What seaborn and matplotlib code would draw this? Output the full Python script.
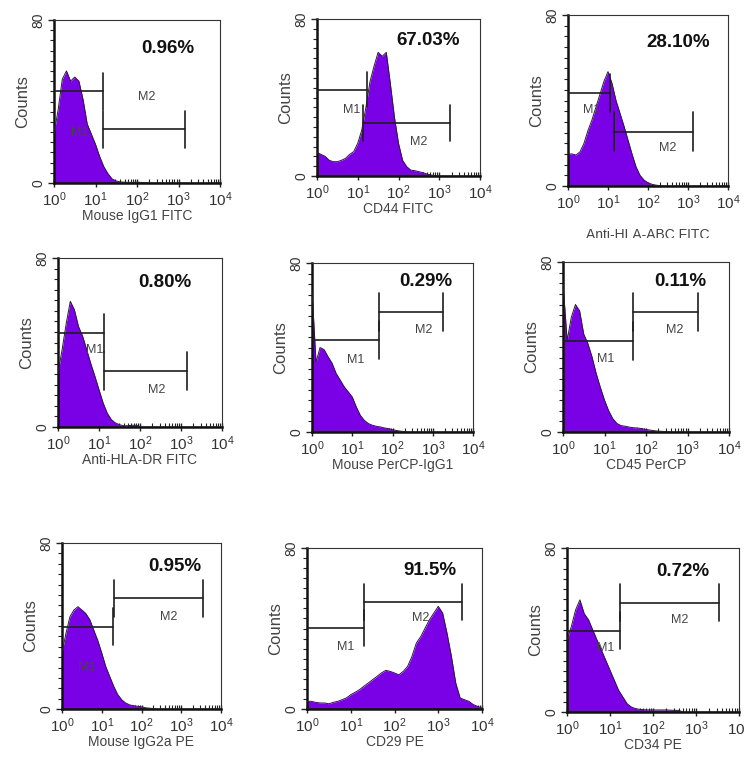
import numpy as np
import matplotlib
matplotlib.use('Agg')
import matplotlib.pyplot as plt
import seaborn as sns
from matplotlib.ticker import FixedLocator, LogLocator, MultipleLocator, NullFormatter
from matplotlib.transforms import Bbox, TransformedBbox

sns.set_style('ticks')
plt.rcParams['font.family'] = ['Liberation Sans', 'DejaVu Sans']
plt.rcParams['mathtext.fontset'] = 'custom'
plt.rcParams['mathtext.rm'] = 'Liberation Sans'
plt.rcParams['mathtext.it'] = 'Liberation Sans:italic'
plt.rcParams['mathtext.bf'] = 'Liberation Sans:bold'

# fluorescence channel, in decades (10^0 .. 10^4), read every 0.1 decade
log_grid = np.round(np.arange(41) * 0.1, 1)
intensity = 10 ** log_grid

markers = ['Mouse IgG1 FITC', 'CD44 FITC', 'Anti-HLA-ABC FITC',
           'Anti-HLA-DR FITC', 'Mouse PerCP-IgG1', 'CD45 PerCP',
           'Mouse IgG2a PE', 'CD29 PE', 'CD34 PE']
percents = ['0.96%', '67.03%', '28.10%', '0.80%', '0.29%', '0.11%',
            '0.95%', '91.5%', '0.72%']

z = [0] * 41
counts_igg1_fitc = ([24, 36, 51, 55, 50, 52, 50, 41, 29, 24, 19, 13, 8, 4.6, 2, 1,
                     0.5, 0.4, 0.3, 0.3, 0.4, 0.3, 0.2, 0.1, 0] + z)[:41]
counts_cd44 = ([12, 11, 10, 8, 7.3, 7.3, 8, 9, 11, 12.4, 16.7, 23.5, 35, 48, 56, 63,
                61, 63, 47, 30, 16.7, 8, 4.8, 3, 2.7, 2.2, 1.7, 1, 0.5, 0.2] + z)[:41]
counts_hla_abc = ([15, 15, 14.5, 16, 20, 26, 31, 37, 43, 49, 53.5, 48, 40, 34, 28,
                   21.5, 15, 9, 5, 2.8, 1.5, 0.8, 0.4, 0.2] + z)[:41]
counts_hla_dr = ([25.5, 36.6, 49, 59.5, 55.5, 47.6, 43, 36.6, 30, 24, 17.7, 11.4,
                  6.6, 3.5, 1.9, 1.1, 0.6, 0.6, 0.8, 0.8, 0.3] + z)[:41]
counts_percp_igg1 = ([67, 33, 40, 39, 35.6, 32.5, 27.7, 24.6, 21.4, 19, 16.6, 11.9,
                      7.9, 5.5, 4, 3.2, 2.7, 2.4, 1.9, 1.6, 1.1, 0.7, 0.4, 0.2] + z)[:41]
counts_cd45 = ([70, 43, 54, 60, 57, 46, 41.6, 35.3, 27.5, 21, 15, 10, 6.3, 4, 3, 2.7,
                2.3, 2, 1.9, 1.6, 1.2, 0.9, 0.6, 0.4, 0.3, 0.2] + z)[:41]
counts_igg2a_pe = ([27, 36.5, 44.5, 47.7, 49.3, 47.7, 46, 43, 38, 33, 27, 20.5, 15.7,
                    11, 7, 4.5, 2.9, 2, 1.6, 1.3, 1, 0.6, 0.4, 0.2] + z)[:41]
counts_cd29 = [3.8, 3.8, 3.3, 3, 3, 2.6, 3.3, 3.8, 4.6, 5.5, 7.1, 8.3, 9.6, 11.3, 12.9,
               14.6, 16.2, 17.9, 19.2, 18.7, 17.9, 17, 18.7, 21.2, 26.2, 32.8, 36, 40.2,
               44.4, 47.7, 51, 47.7, 37.7, 26.2, 12.9, 5.5, 4.6, 3.8, 2.2, 1.3, 0.5]
counts_cd34 = ([35, 41.6, 49.8, 54.7, 48, 45, 40, 35, 30.2, 25.3, 20.4, 15.5, 10.6,
                7.3, 4, 2.4, 1.6, 1.3, 1.1, 1, 1, 1, 1, 1, 0.9, 0.8, 0.8] + z)[:41]
all_counts = [counts_igg1_fitc, counts_cd44, counts_hla_abc, counts_hla_dr,
              counts_percp_igg1, counts_cd45, counts_igg2a_pe, counts_cd29, counts_cd34]

# gates in decades: M1 = (end, level), M2 = (start, end, level)
m1_gates = [(1.17, 45), (1.22, 44), (1.05, 43.4), (1.12, 44.5), (1.66, 43.6),
            (1.68, 42.8), (1.28, 39.7), (1.30, 40.2), (1.24, 39.7)]
m2_gates = [(1.17, 3.16, 26.3), (1.14, 3.27, 27), (1.14, 3.13, 25.4),
            (1.12, 3.14, 26.3), (1.66, 3.25, 57), (1.68, 3.26, 56.5),
            (1.30, 3.54, 53.3), (1.31, 3.54, 53), (1.24, 3.53, 53.4)]

# layout (pixels, image coords) and label spots (decade, count)
axes_px = [(54, 20, 220, 183), (317, 19, 480, 176), (568, 15, 728, 186),
           (58, 258, 222, 427), (312, 263, 473, 432), (563, 262, 729, 432),
           (62, 543, 221, 709), (307, 548, 482, 709), (567, 548, 739, 712)]
m1_txt = [(0.63, 24.5), (0.86, 33.7), (0.6, 35.6), (0.9, 36.6), (1.08, 34),
          (1.04, 34.5), (0.63, 19.7), (0.88, 31), (0.89, 31)]
m2_txt = [(2.23, 42), (2.49, 17.5), (2.5, 17.6), (2.4, 17.7), (2.77, 48.3),
          (2.7, 47.8), (2.68, 44.5), (2.59, 45), (2.63, 45)]
pct_txt = [(2.75, 66), (2.73, 69), (2.76, 67), (2.61, 68.5), (2.82, 71.3),
           (2.82, 71), (2.85, 68.5), (2.82, 69), (2.7, 68.6)]

W, H = 744, 773
fill_color = '#7a00e6'
gate_color = '#1e1e1e'
tick_h = 9

fig = plt.figure(figsize=(W / 100, H / 100), dpi=100)

for i in range(9):
    x0, y0, x1, y1 = axes_px[i]
    ax = fig.add_axes([x0 / W, 1 - y1 / H, (x1 - x0) / W, (y1 - y0) / H])
    y = np.array(all_counts[i], dtype=float)
    ax.fill_between(intensity, 0, y, color=fill_color, lw=0, zorder=2)
    sns.lineplot(x=intensity, y=y, ax=ax, color='#222222', lw=0.7, zorder=3)

    # gate markers
    e1, l1 = m1_gates[i]
    s2, e2, l2 = m2_gates[i]
    ax.plot([1, 10 ** e1], [l1, l1], color=gate_color, lw=1.2, zorder=4)
    ax.plot([10 ** e1] * 2, [l1 - tick_h, l1 + tick_h], color=gate_color, lw=1.2, zorder=4)
    ax.plot([10 ** s2, 10 ** e2], [l2, l2], color=gate_color, lw=1.2, zorder=4)
    for xe in (s2, e2):
        ax.plot([10 ** xe] * 2, [l2 - tick_h, l2 + tick_h], color=gate_color, lw=1.2, zorder=4)

    ax.text(10 ** m1_txt[i][0], m1_txt[i][1], 'M1', ha='center', va='center',
            fontsize=9, color='#444444', zorder=5)
    ax.text(10 ** m2_txt[i][0], m2_txt[i][1], 'M2', ha='center', va='center',
            fontsize=9, color='#444444', zorder=5)
    ax.text(10 ** pct_txt[i][0], pct_txt[i][1], percents[i], ha='center', va='center',
            fontsize=13.5, fontweight='bold', color='#111111', zorder=5)

    ax.set_xscale('log')
    ax.set_xlim(1, 1e4)
    ax.set_ylim(0, 80)
    ax.xaxis.set_major_locator(FixedLocator([1, 10, 100, 1000, 10000]))
    ax.xaxis.set_minor_locator(LogLocator(base=10, subs=np.arange(2, 10), numticks=20))
    ax.xaxis.set_minor_formatter(NullFormatter())
    ax.set_xticklabels([r'$\mathregular{10^{%d}}$' % k for k in range(5)])
    ax.yaxis.set_major_locator(FixedLocator([0, 80]))
    ax.yaxis.set_minor_locator(MultipleLocator(5))
    ax.set_yticklabels(['0', '80'], rotation=90, va='center')

    ax.tick_params(axis='x', which='major', direction='inout', length=6, width=1,
                   labelsize=11, pad=2, colors='#222222', labelcolor='#333333')
    ax.tick_params(axis='x', which='minor', direction='in', length=3, width=0.8,
                   colors='#222222')
    ax.tick_params(axis='y', which='major', direction='out', length=4, width=1,
                   labelsize=10, pad=2, colors='#222222', labelcolor='#333333')
    ax.tick_params(axis='y', which='minor', direction='out', length=3, width=0.8,
                   colors='#222222')

    for side in ('left', 'bottom'):
        ax.spines[side].set_linewidth(1.8)
        ax.spines[side].set_color('#111111')
    for side in ('top', 'right'):
        ax.spines[side].set_linewidth(0.8)
        ax.spines[side].set_color('#333333')

    ax.set_xlabel(markers[i], fontsize=10, color='#444444', labelpad=0)
    ax.set_ylabel('Counts', fontsize=12, color='#444444', labelpad=1)

    if i == 2:
        # this label is cut off by the row below in the original figure
        lab = ax.xaxis.label
        lab.set_clip_box(TransformedBbox(Bbox.from_extents(0, 1 - 238 / H, 1, 1),
                                         fig.transFigure))
        lab.set_clip_on(True)
        ax.xaxis.labelpad = 12

fig.savefig('out.png', dpi=100, facecolor='white')
